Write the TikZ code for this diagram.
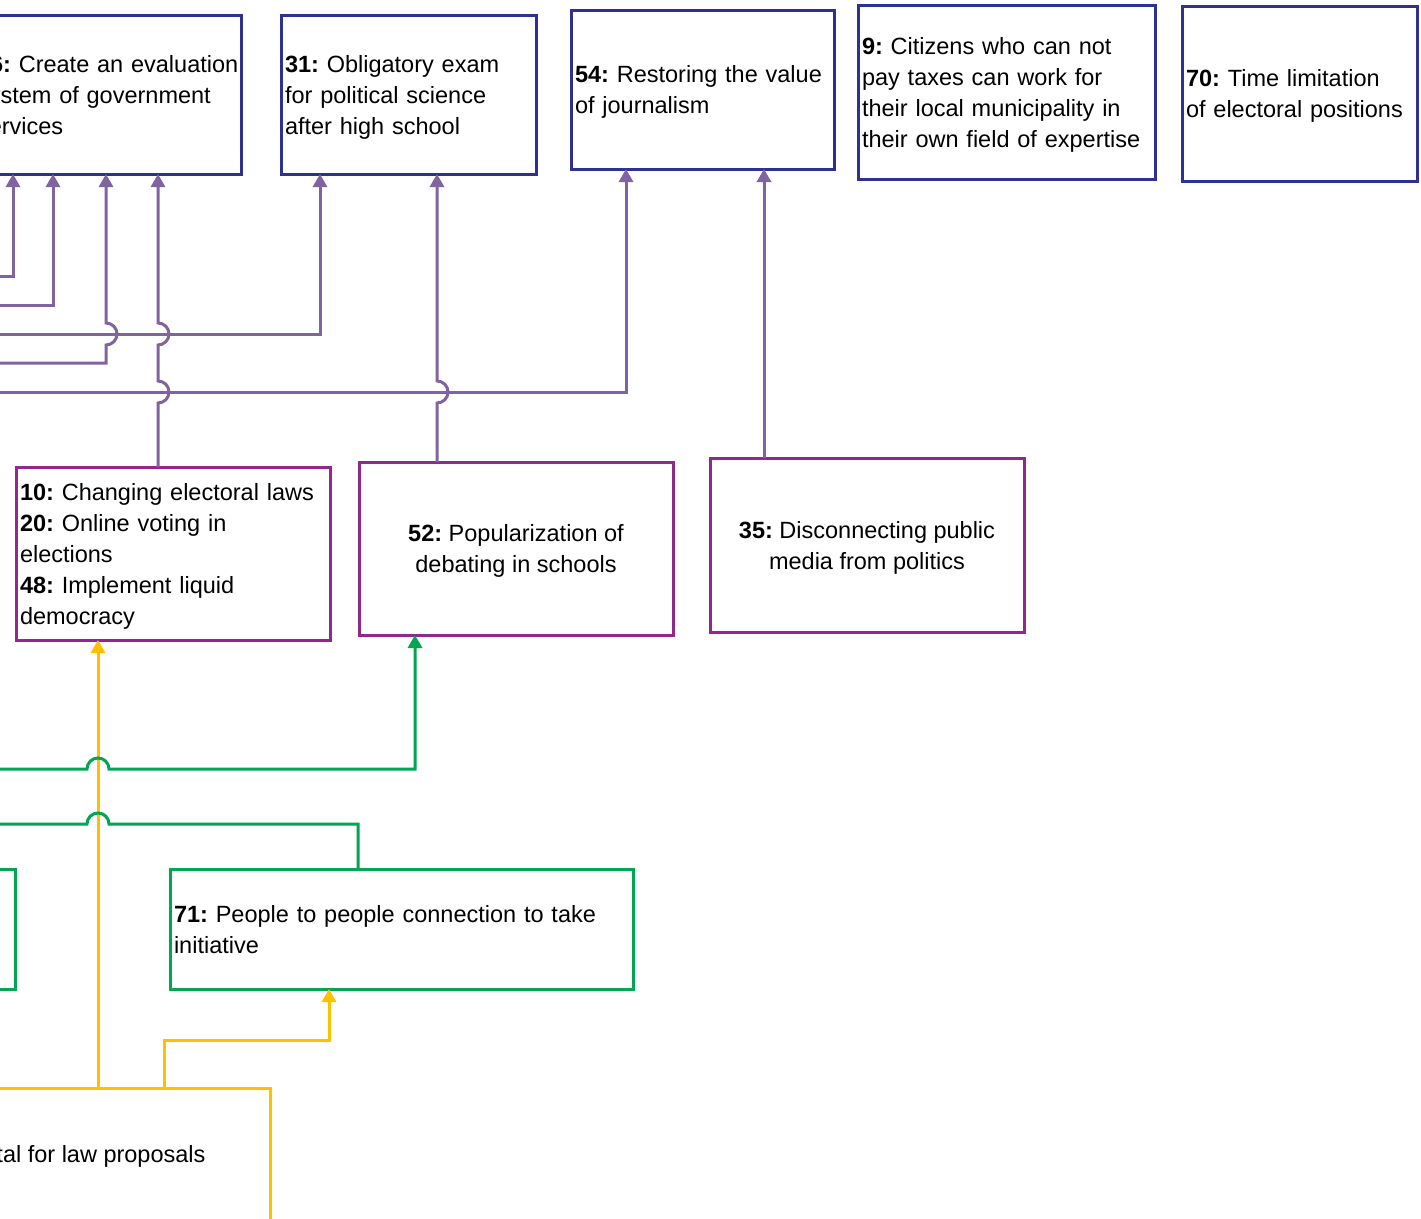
\documentclass[tikz,border=0pt]{standalone}
\usepackage{fontspec}
\setmainfont{Liberation Sans}
\usetikzlibrary{arrows.meta}
\definecolor{navy}{HTML}{2E3192}
\definecolor{boxpurple}{HTML}{92278F}
\definecolor{conpurple}{HTML}{8064A2}
\definecolor{mygreen}{HTML}{00A651}
\definecolor{myyellow}{HTML}{FFC000}
\newcommand{\mystrut}{\rule[-7pt]{0pt}{31pt}}
\begin{document}
\frenchspacing
\begin{tikzpicture}[x=1pt,y=1pt,yscale=-1,
  txt/.style={font=\fontsize{23.5}{31}\selectfont, text=black},
  basebox/.style={draw, line width=3pt, fill=white, inner xsep=4pt, inner ysep=0pt, outer sep=0pt, txt},
  lbox/.style={basebox, align=left},
  cbox/.style={basebox, align=center},
  tip/.style={-{Triangle[width=14pt,length=13pt]}},
  pcon/.style={draw=conpurple, line width=3pt},
  gcon/.style={draw=mygreen, line width=3pt},
  ycon/.style={draw=myyellow, line width=3pt}]
\useasboundingbox (0,0) rectangle (1421,1218);
\clip (0,0) rectangle (1421,1218);
\fill[white] (0,0) rectangle (1421,1218);

% top row (navy)
\node[lbox, draw=navy, minimum width=268pt, minimum height=159pt, text width=260pt] (b6) at (107,94.5)
  {\mystrut\mbox{\textbf{26:} Create an evaluation}\\\mbox{system of government}\\services\mystrut};
\node[lbox, draw=navy, minimum width=255pt, minimum height=159pt, text width=247pt] (b31) at (408.5,94.5)
  {\mystrut\mbox{\textbf{31:} Obligatory exam}\\\mbox{for political science}\\\mbox{after high school}\mystrut};
\node[lbox, draw=navy, minimum width=263pt, minimum height=159pt, text width=255pt] (b54) at (702.5,89.5)
  {\mystrut\mbox{\textbf{54:} Restoring the value}\\of journalism\mystrut};
\node[lbox, draw=navy, minimum width=297pt, minimum height=174pt, text width=289pt] (b9) at (1006.5,92)
  {\mystrut\mbox{\textbf{9:} Citizens who can not}\\\mbox{pay taxes can work for}\\\mbox{their local municipality in}\\\mbox{their own field of expertise}\mystrut};
\node[lbox, draw=navy, minimum width=235pt, minimum height=175pt, text width=227pt] (b70) at (1299.5,93.5)
  {\mystrut\mbox{\textbf{70:} Time limitation}\\\mbox{of electoral positions}\mystrut};

% middle row (purple)
\node[lbox, draw=boxpurple, minimum width=314pt, minimum height=173pt, text width=306pt] (b10) at (173,553.5)
  {\mystrut\mbox{\textbf{10:} Changing electoral laws}\\\mbox{\textbf{20:} Online voting in}\\elections\\\mbox{\textbf{48:} Implement liquid}\\democracy\mystrut};
\node[cbox, draw=boxpurple, minimum width=314pt, minimum height=173pt] (b52) at (516,548.5)
  {\mystrut\textbf{52:} Popularization of\\debating in schools\mystrut};
\node[cbox, draw=boxpurple, minimum width=314pt, minimum height=174pt] (b35) at (867,545)
  {\mystrut\textbf{35:} Disconnecting public\\media from politics\mystrut};

% green row
\node[basebox, draw=mygreen, minimum width=315pt, minimum height=120pt] (gl) at (-142.5,929) {};
\node[lbox, draw=mygreen, minimum width=463pt, minimum height=120pt, text width=455pt] (b71) at (401.5,929)
  {\mystrut\mbox{\textbf{71:} People to people connection to take}\\initiative\mystrut};

% yellow box
\node[basebox, draw=myyellow, minimum width=520pt, minimum height=212pt] (yb) at (10,1194) {};
\node[txt, anchor=base east] (ytxt) at (209,1162) {portal for law proposals};

% off-picture ends
\coordinate (in1) at (-30,276);
\coordinate (in2) at (-30,305);
\coordinate (in3) at (-30,363);
\coordinate (in4) at (-30,334);
\coordinate (in5) at (-30,392);
\coordinate (in6) at (-30,769);
\coordinate (in7) at (-30,824);

% purple connectors
\draw[pcon, tip] (in1) -| ([xshift=40pt]b6.south west);
\draw[pcon, tip] (in2) -| ([xshift=80pt]b6.south west);
\draw[pcon, tip] (in4) -| ([xshift=39pt]b31.south west);
\draw[pcon, tip] (in5) -| ([xshift=55pt]b54.south west);
\draw[pcon, tip] (in3) -- (106,363) -- (106,345) arc(90:-90:11) -- ([xshift=133pt]b6.south west);
\draw[pcon, tip] ([xshift=142pt]b10.north west) -- (158,403) arc(90:-90:11) -- (158,345) arc(90:-90:11) -- ([xshift=185pt]b6.south west);
\draw[pcon, tip] ([xshift=78pt]b52.north west) -- (437,403) arc(90:-90:11) -- ([xshift=156pt]b31.south west);
\draw[pcon, tip] ([xshift=54pt]b35.north west) -- ([xshift=193pt]b54.south west);

% yellow connectors
\draw[ycon, tip] ([xshift=348pt]yb.north west) -- ([xshift=82pt]b10.south west);
\draw[ycon, tip] ([xshift=414pt]yb.north west) -- ++(0,-48) -| ([xshift=159pt]b71.south west);

% green connectors
\draw[gcon, tip] (in6) -- (87,769) arc(180:360:11) -- (415,769) -- ([xshift=56pt]b52.south west);
\draw[gcon] ([xshift=188pt]b71.north west) |- (109,824) arc(0:-180:11) -- (in7);
\end{tikzpicture}
\end{document}
